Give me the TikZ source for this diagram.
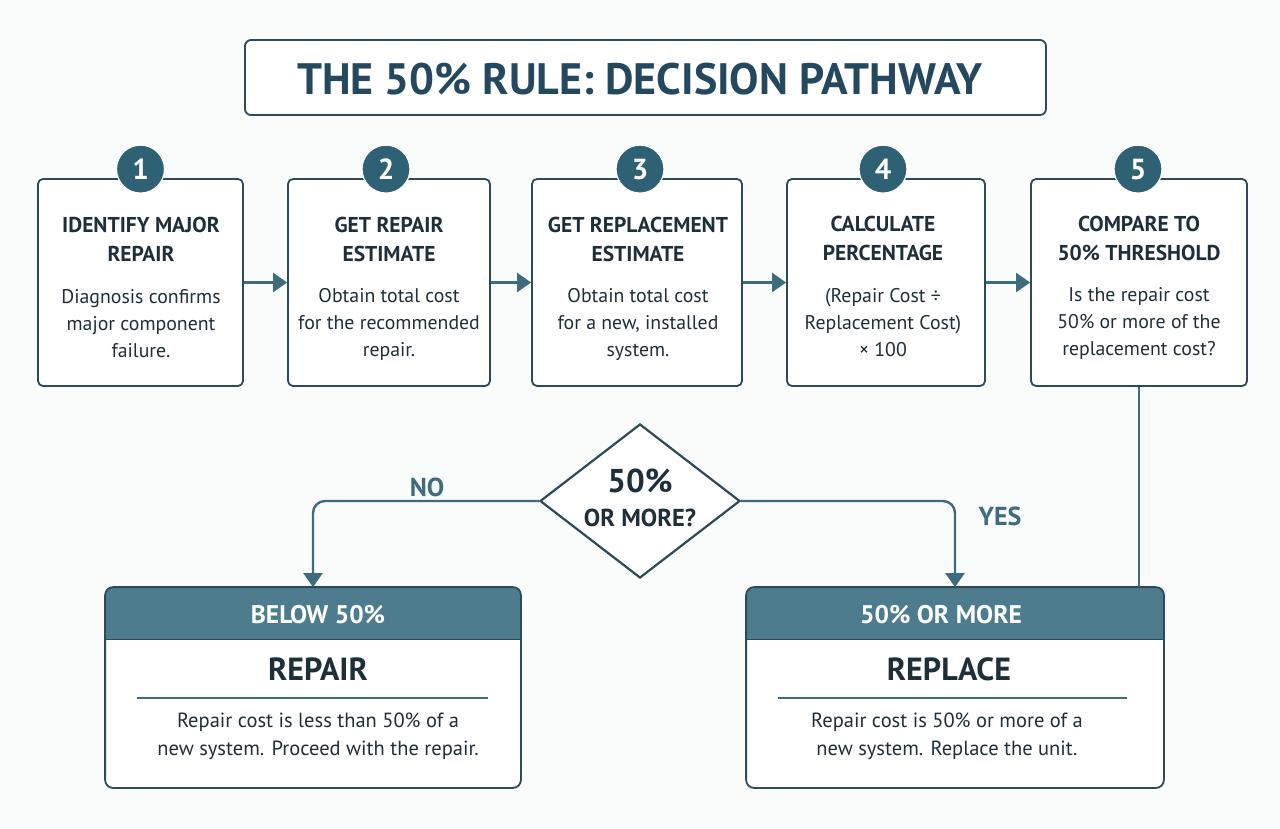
\documentclass[tikz,border=0pt]{standalone}
\usepackage{fontspec}
\setmainfont{PT Sans}
\usetikzlibrary{shapes.geometric,arrows.meta,calc}
\definecolor{ink}{HTML}{1F2F3A}
\definecolor{titlec}{HTML}{24495E}
\definecolor{teal}{HTML}{3E6C7E}
\definecolor{hdr}{HTML}{4D7C8E}
\definecolor{circ}{HTML}{2F6175}
\definecolor{edge}{HTML}{2C4A57}
\definecolor{bg}{HTML}{FAFBFB}
\tikzset{
  stepbox/.style={draw=edge, line width=1.8pt, rounded corners=5pt, fill=white, inner sep=0pt},
  numc/.style={circle, fill=circ, draw=white, line width=1.2pt, minimum size=48pt, inner sep=0pt, text=white, font=\fontsize{29}{29}\selectfont\bfseries},
  steptitle/.style={align=center, text=ink, font=\fontsize{21.5}{29}\selectfont\bfseries, inner sep=0pt},
  stepbody/.style={align=center, text=ink, font=\fontsize{19.8}{27}\selectfont, inner sep=0pt},
  resbody/.style={align=center, text=ink, font=\fontsize{20.5}{28}\selectfont, inner sep=0pt},
  conn/.style={draw=teal, line width=2.4pt, -{Triangle[length=14pt,width=19pt]}},
  plain/.style={draw=teal, line width=2.2pt},
  lbl/.style={text=teal, font=\fontsize{26}{26}\selectfont\bfseries, inner sep=0pt},
  hdrtext/.style={text=white, font=\fontsize{25.5}{25.5}\selectfont\bfseries, inner sep=0pt},
  restitle/.style={text=ink, font=\fontsize{32}{32}\selectfont\bfseries, inner sep=0pt},
  resbox/.style={draw=edge, line width=1.8pt, rounded corners=8pt, inner sep=0pt},
}
\begin{document}
\begin{tikzpicture}[x=1pt,y=-1pt]
\useasboundingbox[fill=bg] (0,0) rectangle (1280,828);
% title
\node[draw=edge, line width=1.8pt, rounded corners=6pt, fill=white, minimum width=801pt, minimum height=75pt] (title) at (645.5,77.5) {};
\node[text=titlec, font=\fontsize{44}{44}\selectfont\bfseries, inner sep=0pt] (tt) at (640,79) {THE 50\% RULE: DECISION PATHWAY};
% step boxes
\node[stepbox, minimum width=205pt, minimum height=207pt] (b1) at (140.5,282.5) {};
\node[stepbox, minimum width=202pt, minimum height=207pt] (b2) at (389,282.5) {};
\node[stepbox, minimum width=210pt, minimum height=207pt] (b3) at (637,282.5) {};
\node[stepbox, minimum width=198pt, minimum height=207pt] (b4) at (886,282.5) {};
\node[stepbox, minimum width=216pt, minimum height=207pt] (b5) at (1139,282.5) {};
% arrows
\draw[conn] (b1.east) -- (b2.west);
\draw[conn] (b2.east) -- (b3.west);
\draw[conn] (b3.east) -- (b4.west);
\draw[conn] (b4.east) -- (b5.west);
% number circles
\node[numc] (c1) at ($(b1.north)+(0,-9)$) {1};
\node[numc] (c2) at ($(b2.north)+(-3,-9)$) {2};
\node[numc] (c3) at ($(b3.north)+(3,-9)$) {3};
\node[numc] (c4) at ($(b4.north)+(-3,-9)$) {4};
\node[numc] (c5) at ($(b5.north)+(-1,-9)$) {5};
% step texts
\node[steptitle] (t1) at (141,239) {IDENTIFY MAJOR\\REPAIR};
\node[stepbody] (d1) at (141,324) {Diagnosis confirms\\major component\\failure.};
\node[steptitle] (t2) at (389,239) {GET REPAIR\\ESTIMATE};
\node[stepbody] (d2) at (389,324) {Obtain total cost\\for the recommended\\repair.};
\node[steptitle] (t3) at (638,239) {GET REPLACEMENT\\ESTIMATE};
\node[stepbody] (d3) at (638,324) {Obtain total cost\\for a new, installed\\system.};
\node[steptitle] (t4) at (883,238) {CALCULATE\\PERCENTAGE};
\node[stepbody] (d4) at (883,323) {(Repair Cost ÷\\Replacement Cost)\\× 100};
\node[steptitle] (t5) at (1139,238) {COMPARE TO\\50\% THRESHOLD};
\node[stepbody] (d5) at (1139,323) {Is the repair cost\\50\% or more of the\\replacement cost?};
% result boxes
\node[resbox, minimum width=414pt, minimum height=199pt] (r1) at (313,687.5) {};
\node[resbox, minimum width=416pt, minimum height=199pt] (r2) at (955,687.5) {};
\begin{scope}
  \clip[rounded corners=8pt] (r1.south west) rectangle (r1.north east);
  \fill[white] (r1.south west) rectangle (r1.north east);
  \fill[hdr] (r1.north west) rectangle ($(r1.north east)+(0,52)$);
\end{scope}
\begin{scope}
  \clip[rounded corners=8pt] (r2.south west) rectangle (r2.north east);
  \fill[white] (r2.south west) rectangle (r2.north east);
  \fill[hdr] (r2.north west) rectangle ($(r2.north east)+(0,52)$);
\end{scope}
\draw[edge, line width=1.8pt, rounded corners=8pt] (r1.south west) rectangle (r1.north east);
\draw[edge, line width=1.8pt, rounded corners=8pt] (r2.south west) rectangle (r2.north east);
\draw[edge, line width=1.2pt] ($(r1.north west)+(0,52)$) -- ($(r1.north east)+(0,52)$);
\draw[edge, line width=1.2pt] ($(r2.north west)+(0,52)$) -- ($(r2.north east)+(0,52)$);
\node[hdrtext] (h1) at (318,615) {BELOW 50\%};
\node[hdrtext] (h2) at (941,615) {50\% OR MORE};
\node[restitle] (m1) at (318,669) {REPAIR};
\node[restitle] (m2) at (949,669) {REPLACE};
\draw[teal, line width=1.2pt] (137,698) coordinate (l1a) -- (488,698) coordinate (l1b);
\draw[teal, line width=1.2pt] (778,698) coordinate (l2a) -- (1127,698) coordinate (l2b);
\node[resbody] (e1) at (318,736) {Repair cost is less than 50\% of a\\new system. Proceed with the repair.};
\node[resbody] (e2) at (947,736) {Repair cost is 50\% or more of a\\new system. Replace the unit.};
% diamond
\node[diamond, draw=edge, line width=2.2pt, fill=white, minimum width=200pt, minimum height=154pt, inner sep=0pt] (dia) at (640,501) {};
\node[text=ink, font=\fontsize{33}{33}\selectfont\bfseries, inner sep=0pt] (dq1) at (640,481) {50\%};
\node[text=ink, font=\fontsize{24.5}{24.5}\selectfont\bfseries, inner sep=0pt] (dq2) at (640,518) {OR MORE?};
% branches
\draw[conn, rounded corners=12pt] (dia.west) -| (r1.north);
\draw[conn, rounded corners=12pt] (dia.east) -| (r2.north);
\node[lbl] (no) at (427,487) {NO};
\node[lbl] (yes) at (1000,516) {YES};
% box 5 to replace
\draw[plain] (b5.south) -- (b5.south |- r2.north);
\end{tikzpicture}
\end{document}
